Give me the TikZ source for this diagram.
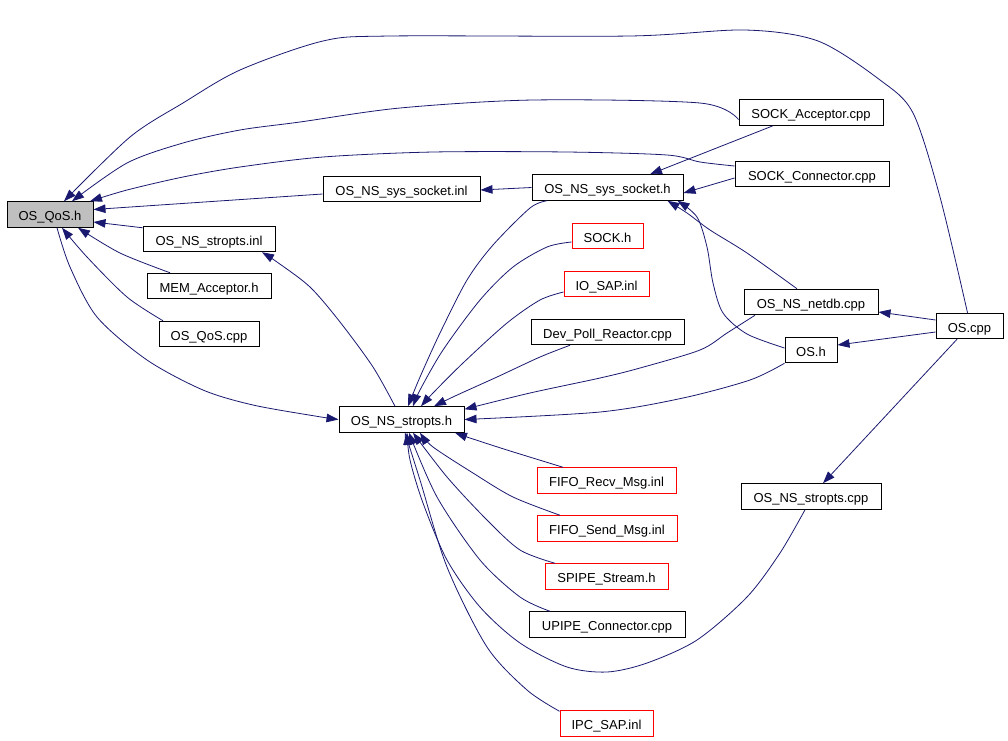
\documentclass[tikz,border=0pt]{standalone}
\usepackage{fontspec}
\setmainfont{Liberation Sans}
\usetikzlibrary{arrows.meta}
\definecolor{edgecol}{HTML}{191970}
\definecolor{grayfill}{HTML}{BFBFBF}
\tikzset{
  box/.style={draw=black, line width=1pt, fill=white, minimum height=25.5pt, inner sep=0pt,
    text height=12.5pt, text depth=0pt, font=\fontsize{13}{15}\selectfont},
  redbox/.style={box, draw=red},
  edge/.style={draw=edgecol, line width=0.8pt, -{Triangle[length=12pt,width=8.5pt]}},
}
\begin{document}
\begin{tikzpicture}[x=1pt,y=-1pt]
\useasboundingbox (0,0) rectangle (1008,740);
% nodes
\node[box, fill=grayfill, minimum width=86pt] (qos) at (50,214.5) {OS\_QoS.h};
\node[box, minimum width=157pt] (sysinl) at (401.5,189) {OS\_NS\_sys\_socket.inl};
\node[box, minimum width=151pt] (sysh) at (607.5,187.5) {OS\_NS\_sys\_socket.h};
\node[box, minimum width=144pt] (sacc) at (811,112.5) {SOCK\_Acceptor.cpp};
\node[box, minimum width=154pt] (scon) at (812,174) {SOCK\_Connector.cpp};
\node[box, minimum width=132pt] (strinl) at (209,239) {OS\_NS\_stropts.inl};
\node[box, minimum width=124pt] (mem) at (209,286) {MEM\_Acceptor.h};
\node[box, minimum width=100pt] (qoscpp) at (209,334) {OS\_QoS.cpp};
\node[redbox, minimum width=71pt] (sockh) at (607.5,236) {SOCK.h};
\node[redbox, minimum width=85pt] (iosap) at (606.5,284) {IO\_SAP.inl};
\node[box, minimum width=153pt] (devpoll) at (607.5,332) {Dev\_Poll\_Reactor.cpp};
\node[box, minimum width=134pt] (netdb) at (811,302) {OS\_NS\_netdb.cpp};
\node[box, minimum width=52pt] (osh) at (811,350) {OS.h};
\node[box, minimum width=67pt] (oscpp) at (969.5,326) {OS.cpp};
\node[box, minimum width=125pt] (strh) at (401.5,419.5) {OS\_NS\_stropts.h};
\node[redbox, minimum width=139pt] (fiforecv) at (606.5,480.5) {FIFO\_Recv\_Msg.inl};
\node[redbox, minimum width=140pt] (fifosend) at (607,528.5) {FIFO\_Send\_Msg.inl};
\node[redbox, minimum width=123pt] (spipe) at (606.5,576.5) {SPIPE\_Stream.h};
\node[box, minimum width=156pt] (upipe) at (607,624.5) {UPIPE\_Connector.cpp};
\node[redbox, minimum width=93pt] (ipcsap) at (606.5,723.5) {IPC\_SAP.inl};
\node[box, minimum width=140pt] (strcpp) at (811,496.5) {OS\_NS\_stropts.cpp};
% edges into OS_QoS.h
\draw[edge] plot[smooth] coordinates {([xshift=-2pt]oscpp.north) (940,197) (913,113) (880,80) (818,41) (745,30) (630,36) (390,36) (323,41) (240,70) (183,103) (130,137) ([xshift=14pt]qos.north)};
\draw[edge] plot[smooth] coordinates {([yshift=-7pt]sacc.west) (700,103) (533,100) (400,108) (300,122) (240,130) (183,143) (127,163) ([xshift=22pt]qos.north)};
\draw[edge] plot[smooth] coordinates {([yshift=8pt]scon.west) (700,162) (667,155) (567,152) (433,152) (323,157) (240,167) (183,177) (127,190) ([xshift=40pt]qos.north)};
\draw[edge] ([yshift=-5pt]sysinl.west) -- ([yshift=5pt]qos.east);
\draw[edge] ([yshift=-2pt]strinl.north west) -- ([yshift=-7.5pt]qos.east);
\draw[edge] plot[smooth] coordinates {([xshift=-39pt]mem.north) (120,253) ([xshift=28pt]qos.south)};
\draw[edge] plot[smooth] coordinates {([xshift=-46pt]qoscpp.north) (127,297) (87,257) ([xshift=12pt]qos.south)};
\draw[edge] plot[smooth] coordinates {([xshift=7pt]qos.south) (70,267) (97,317) (147,360) (203,390) (253,405) (315,416) (strh.west)};
% OS_NS_sys_socket.h
\draw[edge] (sysh.west) -- ([yshift=-1pt]sysinl.east);
\draw[edge] ([xshift=-38pt]sacc.south) -- ([xshift=42.5pt]sysh.north);
\draw[edge] ([yshift=-4pt]scon.west) -- ([yshift=-5.5pt]sysh.east);
\draw[edge] plot[smooth] coordinates {([xshift=-14pt]netdb.north) (747,253) (710,230) (687,213) ([xshift=60pt]sysh.south)};
\draw[edge] plot[smooth] coordinates {([yshift=2pt]osh.west) (747,334) (723,313) (713,283) (707,247) (697,217) ([xshift=70pt]sysh.south)};
% into OS_NS_stropts.h from above
\draw[edge] plot[smooth] coordinates {([xshift=-60.5pt]sysh.south) (530,208) (493,245) (467,280) (440,333) (420,377) ([xshift=6.5pt]strh.north)};
\draw[edge] plot[smooth] coordinates {([yshift=-6pt]sockh.west) (547,247) (513,267) (480,300) (443,350) (420,390) ([xshift=11.5pt]strh.north)};
\draw[edge] plot[smooth] coordinates {([yshift=-8pt]iosap.west) (540,300) (507,323) (463,363) (433,393) ([xshift=19.5pt]strh.north)};
\draw[edge] plot[smooth] coordinates {([xshift=-37.5pt]devpoll.south) (540,357) (497,377) (455,396) ([xshift=32.5pt]strh.north)};
\draw[edge] plot[smooth] coordinates {([xshift=-56pt]netdb.south) (727,333) (700,350) (640,368) (600,378) (530,393) ([yshift=-3pt]strh.north east)};
\draw[edge] plot[smooth] coordinates {(osh.south west) (750,380) (683,398) (600,412) (strh.east)};
% OS.cpp
\draw[edge] ([yshift=6pt]oscpp.west) -- ([yshift=-10pt]netdb.east);
\draw[edge] ([yshift=-6pt]oscpp.west) -- ([yshift=5pt]osh.east);
\draw[edge] ([xshift=-12.5pt]oscpp.south) -- ([xshift=12pt]strcpp.north);
% into OS_NS_stropts.h from below
\draw[edge] plot[smooth] coordinates {([xshift=-6pt]strcpp.south) (780,553) (747,597) (697,640) (647,663) (607,672) (567,667) (520,643) (480,607) (447,560) (423,503) (410,460) ([xshift=5.5pt]strh.south)};
\draw[edge] plot[smooth] coordinates {([xshift=-43.5pt]fiforecv.north) (507,450) (470,438) ([xshift=53.5pt]strh.south)};
\draw[edge] plot[smooth] coordinates {([xshift=-47pt]fifosend.north) (513,497) (473,473) (433,447) ([xshift=18.5pt]strh.south)};
\draw[edge] plot[smooth] coordinates {([xshift=-51.5pt]spipe.north) (520,550) (487,520) (447,477) ([xshift=11.5pt]strh.south)};
\draw[edge] plot[smooth] coordinates {([xshift=-57pt]upipe.north) (520,597) (480,560) (437,497) ([xshift=7.5pt]strh.south)};
\draw[edge] plot[smooth] coordinates {([yshift=-1pt]ipcsap.north west) (527,690) (487,647) (447,567) (420,480) ([xshift=3.5pt]strh.south)};
% OS_NS_stropts.h -> OS_NS_stropts.inl
\draw[edge] plot[smooth] coordinates {([xshift=-6.5pt]strh.north) (373,367) (340,322) (310,287) (277,262) ([xshift=53pt]strinl.south)};
\end{tikzpicture}
\end{document}
